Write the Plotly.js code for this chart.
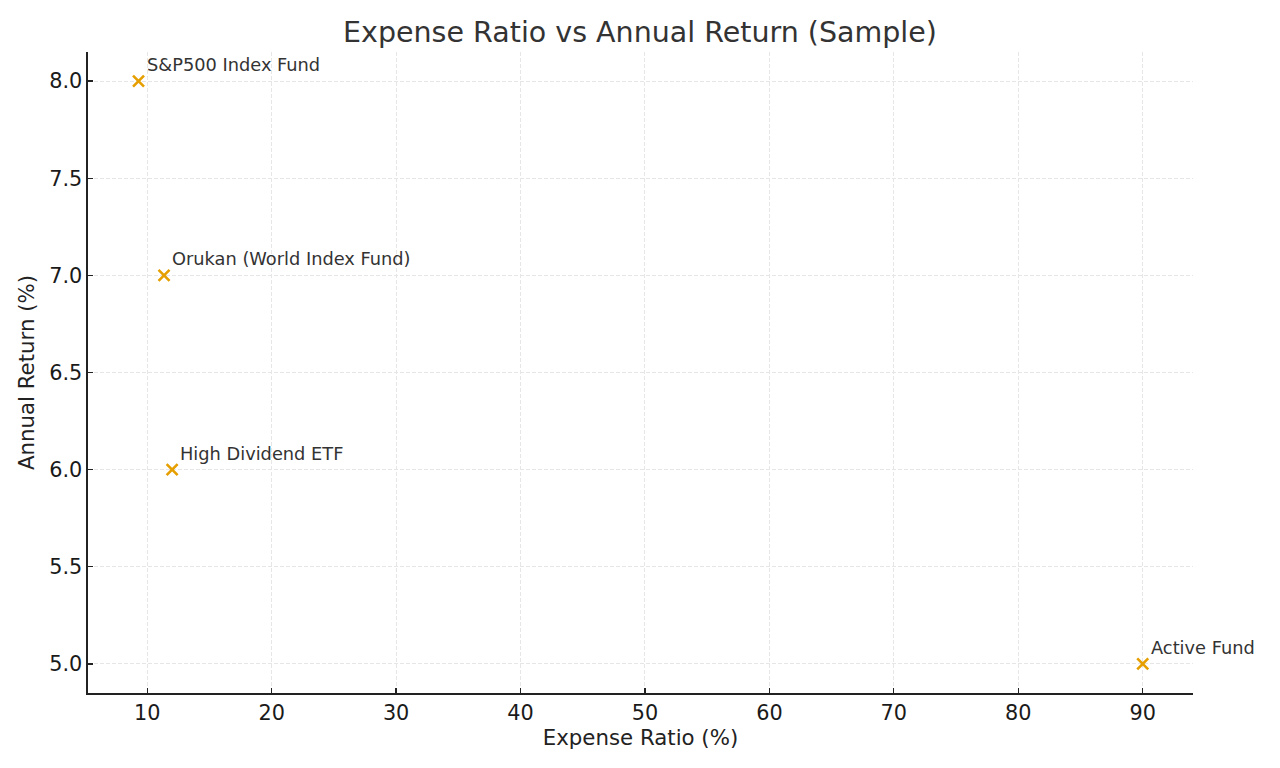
<!DOCTYPE html>
<html>
<head>
<meta charset="utf-8">
<script src="https://cdn.plot.ly/plotly-3.0.1.min.js"></script>
<style>html,body{margin:0;padding:0;background:#fff;}#chart{width:1280px;height:768px;}</style>
</head>
<body>
<div id="chart"></div>
<script>
const funds = ["S&P500 Index Fund", "Orukan (World Index Fund)", "High Dividend ETF", "Active Fund"];
const expenseRatio = [9.3, 11.35, 12.0, 90];
const annualReturn = [8.0, 7.0, 6.0, 5.0];
const xTicks = [10, 20, 30, 40, 50, 60, 70, 80, 90];
const yTicks = [5.0, 5.5, 6.0, 6.5, 7.0, 7.5, 8.0];

const font = "DejaVu Sans, sans-serif";
const trace = {
  x: expenseRatio, y: annualReturn, type: "scatter", mode: "markers",
  marker: {symbol: "x-thin", size: 11, color: "#E69F00", line: {color: "#E69F00", width: 2.6}},
  hoverinfo: "skip"
};
const annotations = funds.map((f, i) => ({
  x: expenseRatio[i], y: annualReturn[i], text: f, showarrow: false,
  xanchor: "left", yanchor: "bottom", xshift: 6, yshift: 4,
  font: {family: font, size: 17.8, color: "#333333"}
}));
const axisCommon = {
  showline: true, linecolor: "#222222", linewidth: 1.6, mirror: false,
  ticks: "inside", ticklen: 5, tickwidth: 1.3, tickcolor: "#222222",
  showgrid: true, gridcolor: "#e6e6e6", griddash: "4px,2px", gridwidth: 1,
  zeroline: false, tickfont: {family: font, size: 20.8, color: "#1a1a1a"}
};
const layout = {
  width: 1280, height: 768,
  paper_bgcolor: "#fff", plot_bgcolor: "#fff",
  margin: {l: 88, r: 87, t: 52, b: 75},
  title: {text: "Expense Ratio vs Annual Return (Sample)", x: 0.5, xanchor: "center", y: 0.958, yanchor: "middle",
          font: {family: font, size: 28.5, color: "#333333"}},
  xaxis: Object.assign({}, axisCommon, {
    range: [5.24, 94.04], tickvals: xTicks, ticktext: xTicks.map(String),
    title: {text: "Expense Ratio (%)", font: {family: font, size: 21.3, color: "#222222"}, standoff: 5}
  }),
  yaxis: Object.assign({}, axisCommon, {
    range: [4.85, 8.15], tickvals: yTicks, ticktext: yTicks.map(v => v.toFixed(1)),
    title: {text: "Annual Return (%)", font: {family: font, size: 21.3, color: "#222222"}, standoff: 9}
  }),
  annotations: annotations,
  showlegend: false
};
Plotly.newPlot("chart", [trace], layout, {displayModeBar: false, staticPlot: true});
</script>
</body>
</html>
